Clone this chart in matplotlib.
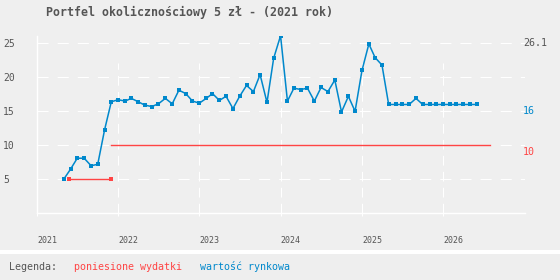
import numpy as np
import pandas as pd
import matplotlib
matplotlib.use('Agg')
import matplotlib.pyplot as plt
import matplotlib.dates as mdates
from matplotlib.patches import Rectangle

plt.rcParams['font.family'] = ['DejaVu Sans Mono']
plt.rcParams['lines.scale_dashes'] = False

# data
title = 'Portfel okolicznościowy 5 zł - (2021 rok)'
value_start = '2021-05-01'
market_value = [5.0, 6.5, 8.1, 8.1, 7.0, 7.2, 12.3, 16.4,
                16.7, 16.5, 16.9, 16.4, 15.9, 15.7, 16.1, 16.9, 16.1, 18.1, 17.6, 16.5,
                16.2, 16.9, 17.6, 16.6, 17.2, 15.4, 17.2, 18.8, 17.9, 20.4, 16.3, 22.8,
                26.1, 16.5, 18.4, 18.2, 18.4, 16.5, 18.5, 17.9, 19.6, 14.9, 17.2, 15.0,
                21.0, 24.9, 22.9, 21.8, 16.0, 16.0, 16.0, 16.0, 16.9, 16.0, 16.0, 16.0,
                16.0, 16.0, 16.0, 16.0, 16.0, 16.0]
spent_dates = ['2021-05-27', '2021-11-28']
spent_values = [5, 5]
spent_now_dates = ['2021-11-28', '2026-08-01']
spent_now = [10, 10]
right_labels = [('26.1', 26.1, '#555555'), ('16', 16, '#0088cc'), ('10', 10, '#ff4444')]
years = [2021, 2022, 2023, 2024, 2025, 2026]
yticks = [5, 10, 15, 20, 25]

BLUE = '#0088cc'
RED = '#ff4444'
GREY = '#555555'
BG = '#efefef'

value_dates = pd.date_range(value_start, periods=len(market_value), freq='MS')

fig = plt.figure(figsize=(5.6, 2.8), dpi=100, facecolor=BG)
ax = fig.add_axes([37 / 560, 1 - 213.3 / 280, 488 / 560, 177.5 / 280])
ax.set_facecolor(BG)

x0 = mdates.date2num(pd.Timestamp('2021-01-01'))
x1 = mdates.date2num(pd.Timestamp('2027-01-04'))
ax.set_xlim(x0, x1)
ax.set_ylim(0, 26.1)

dash = (0, (8, 6.5))
for v in yticks:
    ax.axhline(v, color='white', lw=0.8, ls=dash, zorder=0)
for y in years[1:]:
    ax.axvline(mdates.date2num(pd.Timestamp(f'{y}-01-01')), ymin=0, ymax=0.847,
               color='white', lw=0.8, ls=(0, (7, 4.5)), zorder=0)

ax.plot(pd.to_datetime(spent_now_dates), spent_now, color=RED, lw=1.0)
ax.plot(pd.to_datetime(spent_dates), spent_values, color=RED, lw=1.0,
        marker='s', ms=3, mew=0)
ax.plot(value_dates, market_value, color=BLUE, lw=1.1, marker='s', ms=3, mew=0)

for s in ['top', 'right']:
    ax.spines[s].set_visible(False)
for s in ['left', 'bottom']:
    ax.spines[s].set_color('white')
    ax.spines[s].set_linewidth(1.0)

ax.set_xticks([mdates.date2num(pd.Timestamp(f'{y}-01-01')) for y in years])
ax.set_xticklabels([str(y) for y in years])
ax.tick_params(axis='x', length=2.2, width=0.8, color='white', pad=14,
               labelsize=6, labelcolor=GREY)
for lb in ax.get_xticklabels():
    lb.set_ha('left')

ax.set_yticks(yticks)
ax.set_yticklabels([str(v) for v in yticks])
ax.tick_params(axis='y', length=0, pad=24.5, labelsize=7, labelcolor=GREY)
for lb in ax.get_yticklabels():
    lb.set_ha('left')

for txt, v, c in right_labels:
    ax.annotate(txt, xy=(0.996, v), xycoords=('axes fraction', 'data'),
                xytext=(0, -5), textcoords='offset points',
                ha='left', va='center', fontsize=7.2, color=c, annotation_clip=False)

fig.text(46 / 560, 1 - 12.3 / 280, title, ha='left', va='center',
         fontsize=8.4, fontweight='bold', color=GREY)

# legend strip
fig.patches.append(Rectangle((0, 0.0929), 1, 0.0143, transform=fig.transFigure,
                             facecolor='white', edgecolor='none', zorder=0))
fig.patches.append(Rectangle((0, 0), 1, 0.0929, transform=fig.transFigure,
                             facecolor='#eeeeee', edgecolor='none', zorder=0))
ly = 1 - 267 / 280
fig.text(9.3 / 560, ly, 'Legenda:', ha='left', va='center', fontsize=7.2, color=GREY)
fig.text(74.3 / 560, ly, 'poniesione wydatki', ha='left', va='center', fontsize=7.2, color=RED)
fig.text(200 / 560, ly, 'wartość rynkowa', ha='left', va='center', fontsize=7.2, color=BLUE)

fig.savefig('out.png', dpi=100, facecolor=BG)
